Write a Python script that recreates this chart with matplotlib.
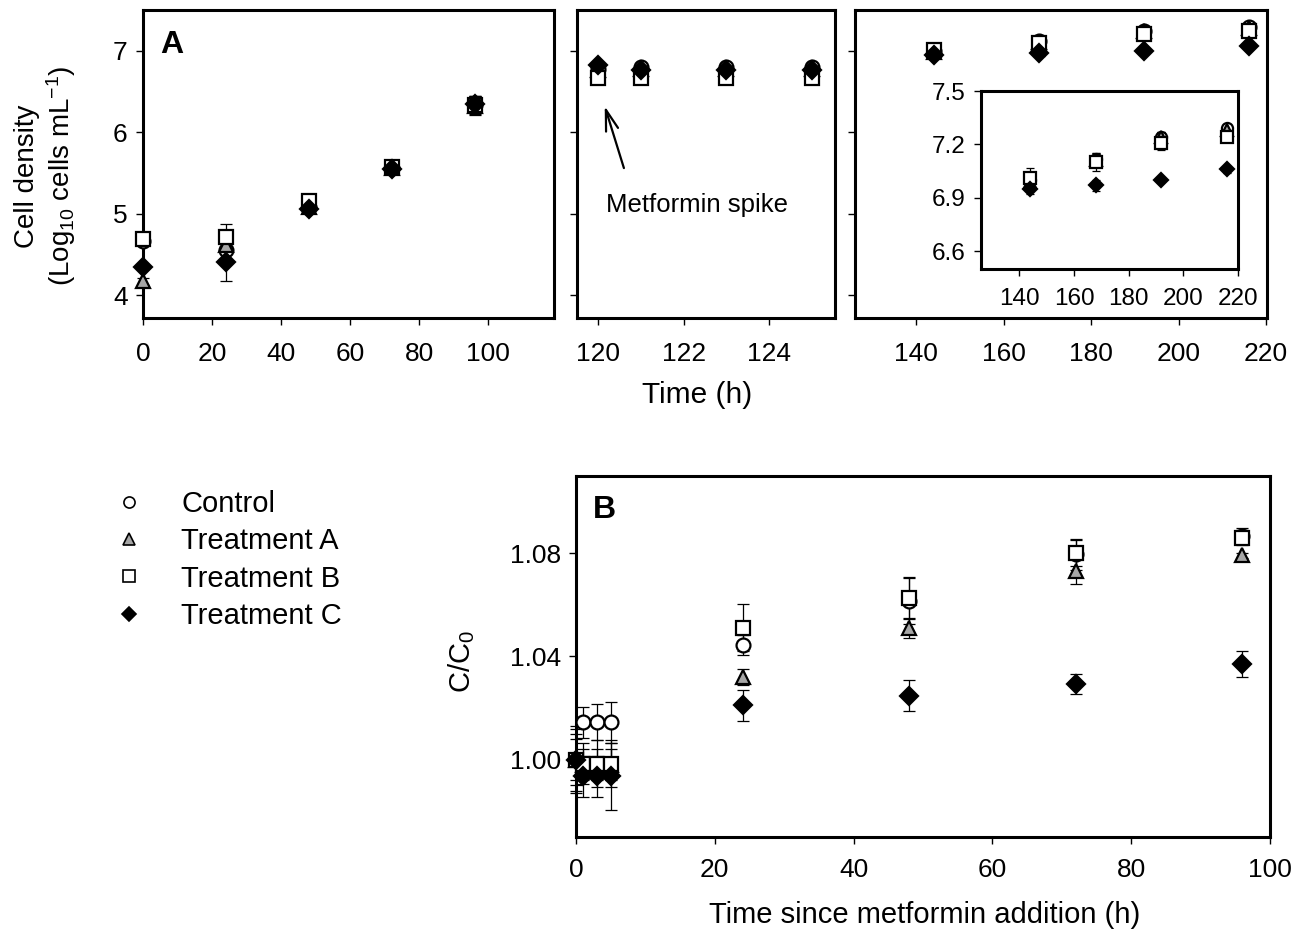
import numpy as np
import matplotlib
matplotlib.use("Agg")
import matplotlib.pyplot as plt
from matplotlib.lines import Line2D

plt.rcParams['font.family'] = ['Liberation Sans', 'DejaVu Sans']
plt.rcParams['mathtext.default'] = 'regular'

# ---- Panel A data (cell density, log10 cells/mL) ----
t_early = [0, 24, 48, 72, 96]
ctrl_early = [4.66, 4.55, 5.08, 5.56, 6.34]
trtA_early = [4.17, 4.61, 5.08, 5.56, 6.32]
trtB_early = [4.69, 4.72, 5.15, 5.57, 6.33]
trtC_early = [4.35, 4.41, 5.06, 5.55, 6.35]
ctrl_early_err = [0.03, 0.10, 0.03, 0.03, 0.10]
trtA_early_err = [0.04, 0.08, 0.03, 0.03, 0.10]
trtB_early_err = [0.03, 0.15, 0.06, 0.03, 0.12]
trtC_early_err = [0.03, 0.23, 0.03, 0.03, 0.10]

t_mid = [120, 121, 123, 125]
ctrl_mid = [6.77, 6.80, 6.80, 6.80]
trtA_mid = [6.76, 6.78, 6.78, 6.78]
trtB_mid = [6.67, 6.67, 6.67, 6.67]
trtC_mid = [6.83, 6.76, 6.76, 6.76]
ctrl_mid_err = [0.03, 0.03, 0.03, 0.03]
trtA_mid_err = [0.03, 0.03, 0.03, 0.03]
trtB_mid_err = [0.04, 0.05, 0.05, 0.04]
trtC_mid_err = [0.03, 0.03, 0.03, 0.03]

t_late = [144, 168, 192, 216]
ctrl_late = [7.00, 7.12, 7.24, 7.29]
trtA_late = [6.99, 7.11, 7.24, 7.28]
trtB_late = [7.01, 7.10, 7.21, 7.24]
trtC_late = [6.95, 6.97, 7.00, 7.06]
ctrl_late_err = [0.03, 0.03, 0.03, 0.02]
trtA_late_err = [0.02, 0.03, 0.03, 0.02]
trtB_late_err = [0.06, 0.05, 0.04, 0.02]
trtC_late_err = [0.03, 0.03, 0.01, 0.02]

# ---- Panel B data (C/C0) ----
t_b = [0, 1, 3, 5, 24, 48, 72, 96]
ctrl_b = [1.000, 1.0145, 1.0145, 1.0145, 1.0445, 1.0615, 1.0797, 1.0868]
trtA_b = [1.000, 0.9980, 0.9980, 0.9980, 1.0320, 1.0510, 1.0731, 1.0793]
trtB_b = [1.000, 0.9985, 0.9985, 0.9985, 1.0512, 1.0627, 1.0802, 1.0861]
trtC_b = [1.000, 0.9935, 0.9935, 0.9935, 1.0211, 1.0247, 1.0293, 1.0371]
ctrl_b_err = [0.012, 0.006, 0.007, 0.008, 0.004, 0.009, 0.006, 0.003]
trtA_b_err = [0.010, 0.006, 0.006, 0.006, 0.003, 0.004, 0.005, 0.001]
trtB_b_err = [0.008, 0.008, 0.009, 0.009, 0.009, 0.008, 0.005, 0.003]
trtC_b_err = [0.013, 0.008, 0.008, 0.013, 0.006, 0.006, 0.004, 0.005]

labels = ['Control', 'Treatment A', 'Treatment B', 'Treatment C']
styles = [
    dict(marker='o', mfc='white', mec='black'),
    dict(marker='^', mfc='#a6a6a6', mec='black'),
    dict(marker='s', mfc='white', mec='black'),
    dict(marker='D', mfc='black', mec='black'),
]


def draw_series(ax, t, series, errs, ms=10, cap=4):
    for ys, es, st in zip(series, errs, styles):
        size = ms - 1 if st['marker'] == 'D' else ms
        ax.errorbar(t, ys, yerr=es, fmt='none', ecolor='black',
                    elinewidth=0.9, capsize=cap, capthick=0.9, zorder=2)
        ax.plot(t, ys, ls='none', ms=size, mew=1.6, zorder=3, **st)


def style_axes(ax, size=19, xpad=12, lw=2.2):
    for sp in ax.spines.values():
        sp.set_linewidth(lw)
    ax.tick_params(direction='out', length=5, width=1.0, labelsize=size, pad=6)
    ax.tick_params(axis='x', pad=xpad)


fig = plt.figure(figsize=(13.06, 9.32), dpi=100)
W, H = 1306.0, 932.0


def add_ax(x0, y0, x1, y1):
    return fig.add_axes([x0 / W, 1 - y1 / H, (x1 - x0) / W, (y1 - y0) / H])


ax1 = add_ax(143, 10, 554, 318)
ax2 = add_ax(577, 10, 835, 318)
ax3 = add_ax(855, 10, 1267, 318)

draw_series(ax1, t_early, [ctrl_early, trtA_early, trtB_early, trtC_early],
            [ctrl_early_err, trtA_early_err, trtB_early_err, trtC_early_err])
draw_series(ax2, t_mid, [ctrl_mid, trtA_mid, trtB_mid, trtC_mid],
            [ctrl_mid_err, trtA_mid_err, trtB_mid_err, trtC_mid_err])
draw_series(ax3, t_late, [ctrl_late, trtA_late, trtB_late, trtC_late],
            [ctrl_late_err, trtA_late_err, trtB_late_err, trtC_late_err])

for ax in (ax1, ax2, ax3):
    style_axes(ax)
    ax.set_ylim(3.72, 7.5)
    ax.set_yticks([4, 5, 6, 7])
    for art in ax.lines + ax.collections:
        art.set_clip_on(False)

ax1.set_xlim(0, 119)
ax1.set_xticks([0, 20, 40, 60, 80, 100])
ax2.set_xlim(119.5, 125.55)
ax2.set_xticks([120, 122, 124])
ax3.set_xlim(126, 220.2)
ax3.set_xticks([140, 160, 180, 200, 220])
ax2.set_yticklabels([])
ax3.set_yticklabels([])

ax1.text(0.041, 0.886, 'A', transform=ax1.transAxes, fontsize=23,
         fontweight='bold', ha='left', va='center')

ax2.annotate('', xy=(120.15, 6.32), xytext=(120.6, 5.56),
             arrowprops=dict(arrowstyle='->,head_length=1.5,head_width=0.45',
                             color='black', lw=1.6, shrinkA=0, shrinkB=0))
ax2.text(120.19, 5.11, 'Metformin spike', fontsize=18.5, ha='left', va='center')

# inset
axi = add_ax(981, 91, 1238, 269)
draw_series(axi, t_late, [ctrl_late, trtA_late, trtB_late, trtC_late],
            [ctrl_late_err, trtA_late_err, trtB_late_err, trtC_late_err],
            ms=8, cap=3)
style_axes(axi, size=17.5, xpad=9)
axi.set_xlim(126, 220)
axi.set_ylim(6.5, 7.5)
axi.set_xticks([140, 160, 180, 200, 220])
axi.set_yticks([6.6, 6.9, 7.2, 7.5])
axi.set_yticklabels(['6.6', '6.9', '7.2', '7.5'])

fig.text(46 / W, 1 - 176 / H, 'Cell density\n(Log$_{10}$ cells mL$^{-1}$)',
         rotation=90, ha='center', va='center', multialignment='center',
         fontsize=20)
fig.text(697 / W, 1 - 395 / H, 'Time (h)', ha='center', va='center', fontsize=21.5)

# Panel B
axb = add_ax(576, 476, 1270, 837)
draw_series(axb, t_b, [ctrl_b, trtA_b, trtB_b, trtC_b],
            [ctrl_b_err, trtA_b_err, trtB_b_err, trtC_b_err], ms=10, cap=4)
style_axes(axb, size=19, xpad=10)
axb.set_xlim(0, 100)
axb.set_ylim(0.97, 1.11)
axb.set_xticks([0, 20, 40, 60, 80, 100])
axb.set_yticks([1.00, 1.04, 1.08])
axb.set_yticklabels(['1.00', '1.04', '1.08'])
for art in axb.lines + axb.collections:
    art.set_clip_on(False)
axb.text(0.0245, 0.906, 'B', transform=axb.transAxes, fontsize=23,
         fontweight='bold', ha='left', va='center')

fig.text(462 / W, 1 - 662 / H, 'C/C$_0$', rotation=90, ha='center',
         va='center', fontsize=21)
fig.text(925 / W, 1 - 915 / H, 'Time since metformin addition (h)',
         ha='center', va='center', fontsize=21)

handles = [Line2D([], [], ls='none', ms=8 if st['marker'] != 'D' else 7,
                  mew=1.2, **st) for st in styles]
fig.legend(handles, labels, loc='upper left', bbox_to_anchor=(114 / W, 1 - 490 / H),
           frameon=False, fontsize=21, handlelength=1.0, handletextpad=1.3,
           labelspacing=0.32, borderpad=0, borderaxespad=0)

fig.savefig('out.png', dpi=100)
